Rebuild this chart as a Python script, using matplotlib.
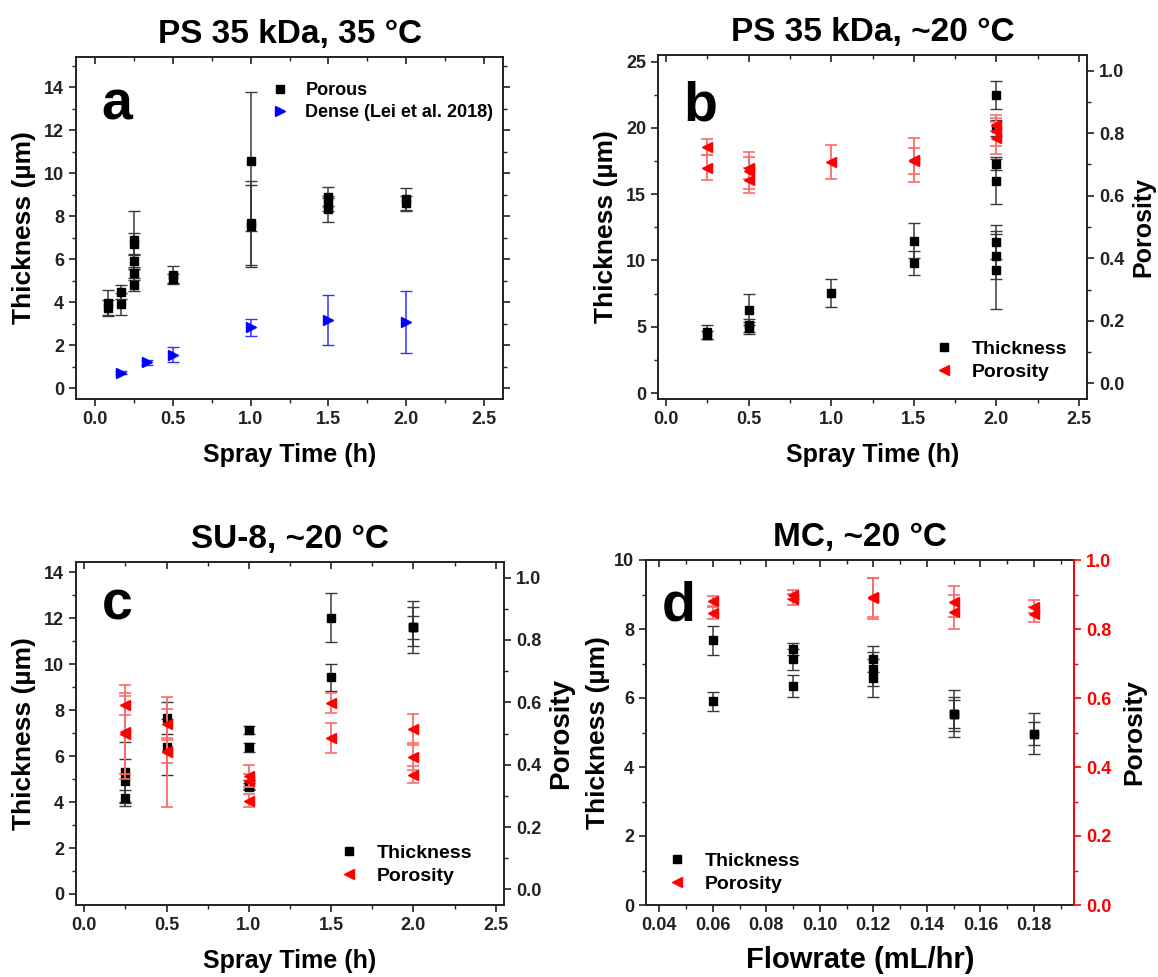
import matplotlib
matplotlib.use("Agg")
import matplotlib.pyplot as plt
from matplotlib.ticker import MultipleLocator
from matplotlib.lines import Line2D

plt.rcParams['font.family'] = ['Liberation Sans', 'DejaVu Sans']
plt.rcParams['font.weight'] = 'bold'

# ---------------- data ----------------
# Panel a: PS 35 kDa, 35 C
a_por_x = [0.083, 0.083, 0.167, 0.167, 0.25, 0.25, 0.25, 0.25, 0.25, 0.5, 0.5,
           1.0, 1.0, 1.0, 1.5, 1.5, 1.5, 2.0, 2.0]
a_por_y = [3.95, 3.75, 4.47, 3.91, 6.9, 6.7, 5.9, 5.35, 4.81, 5.25, 5.1,
           10.55, 7.7, 7.53, 8.9, 8.55, 8.35, 8.8, 8.6]
a_por_e = [0.6, 0.35, 0.34, 0.5, 1.35, 0.5, 0.35, 0.3, 0.3, 0.42, 0.2,
           3.23, 1.95, 1.9, 0.45, 0.3, 0.6, 0.5, 0.35]
a_den_x = [0.167, 0.333, 0.5, 1.0, 1.5, 2.0]
a_den_y = [0.73, 1.2, 1.55, 2.84, 3.18, 3.07]
a_den_e = [0.05, 0.1, 0.35, 0.4, 1.17, 1.45]

# Panel b: PS 35 kDa, ~20 C
b_thk_x = [0.25, 0.25, 0.5, 0.5, 0.5, 1.0, 1.5, 1.5,
           2.0, 2.0, 2.0, 2.0, 2.0, 2.0, 2.0]
b_thk_y = [4.6, 4.35, 6.3, 5.1, 4.9, 7.55, 11.5, 9.8,
           22.48, 19.97, 17.26, 16.02, 11.38, 10.3, 9.29]
b_thk_e = [0.55, 0.3, 1.2, 0.5, 0.45, 1.07, 1.3, 0.9,
           1.05, 0.6, 0.4, 1.78, 1.3, 1.71, 2.96]
b_por_x = [0.25, 0.25, 0.5, 0.5, 0.5, 1.0, 1.5, 1.5, 2.0, 2.0, 2.0]
b_por_y = [0.755, 0.69, 0.69, 0.68, 0.65, 0.707, 0.715, 0.712, 0.827, 0.808, 0.785]
b_por_e = [0.025, 0.04, 0.035, 0.06, 0.04, 0.055, 0.07, 0.042, 0.02, 0.05, 0.05]

# Panel c: SU-8, ~20 C
c_thk_x = [0.25, 0.25, 0.25, 0.5, 0.5, 1.0, 1.0, 1.0, 1.0, 1.5, 1.5, 2.0, 2.0, 2.0]
c_thk_y = [5.31, 4.92, 4.18, 7.67, 6.41, 7.14, 6.39, 4.75, 4.67, 12.02, 9.43, 11.64, 11.64, 11.6]
c_thk_e = [1.32, 0.95, 0.35, 0.7, 1.22, 0.19, 0.2, 0.2, 0.15, 1.07, 0.58, 1.13, 0.85, 0.5]
c_por_x = [0.25, 0.25, 0.25, 0.5, 0.5, 0.5, 1.0, 1.0, 1.0, 1.5, 1.5, 2.0, 2.0, 2.0]
c_por_y = [0.59, 0.505, 0.50, 0.53, 0.445, 0.441, 0.365, 0.349, 0.285, 0.599, 0.487, 0.514, 0.426, 0.368]
c_por_e = [0.031, 0.15, 0.13, 0.05, 0.04, 0.177, 0.035, 0.02, 0.02, 0.032, 0.048, 0.05, 0.042, 0.028]

# Panel d: MC, ~20 C
d_thk_x = [0.06, 0.06, 0.09, 0.09, 0.09, 0.12, 0.12, 0.12, 0.15, 0.15, 0.15, 0.18, 0.18]
d_thk_y = [7.67, 5.9, 7.42, 7.12, 6.35, 7.13, 6.84, 6.59, 5.54, 5.54, 5.54, 4.97, 4.97]
d_thk_e = [0.42, 0.27, 0.16, 0.3, 0.33, 0.37, 0.5, 0.55, 0.68, 0.5, 0.4, 0.6, 0.32]
d_por_x = [0.06, 0.06, 0.09, 0.09, 0.12, 0.12, 0.15, 0.15, 0.18, 0.18]
d_por_y = [0.881, 0.847, 0.90, 0.886, 0.892, 0.889, 0.879, 0.85, 0.865, 0.843]
d_por_e = [0.015, 0.017, 0.012, 0.015, 0.056, 0.06, 0.045, 0.05, 0.02, 0.022]

titles = ["PS 35 kDa, 35 °C", "PS 35 kDa, ~20 °C", "SU-8, ~20 °C", "MC, ~20 °C"]
letters = ["a", "b", "c", "d"]
time_ticks = [0.0, 0.5, 1.0, 1.5, 2.0, 2.5]
time_labels = ['0.0', '0.5', '1.0', '1.5', '2.0', '2.5']
flow_ticks = [0.04, 0.06, 0.08, 0.10, 0.12, 0.14, 0.16, 0.18]
flow_labels = ['0.04', '0.06', '0.08', '0.10', '0.12', '0.14', '0.16', '0.18']
por_ticks = [0.0, 0.2, 0.4, 0.6, 0.8, 1.0]
por_labels = ['0.0', '0.2', '0.4', '0.6', '0.8', '1.0']

# ---------------- figure ----------------
W, H = 1158, 977
fig = plt.figure(figsize=(W / 100, H / 100), dpi=100)


def box(l, t, r, b):
    return [l / W, 1 - b / H, (r - l) / W, (b - t) / H]


axa = fig.add_axes(box(76, 57, 503, 399))
axb = fig.add_axes(box(658, 55, 1087, 399))
axc = fig.add_axes(box(76, 562, 504, 905))
axd = fig.add_axes(box(646, 560, 1074, 905))

SP = '#222222'
TICKFS = 13
XLABFS = 18
YLABFS = 19


def style_main(ax, right_inner=True):
    for s in ax.spines.values():
        s.set_linewidth(1.4)
        s.set_color(SP)
    ax.tick_params(axis='both', which='major', direction='out', length=5, width=1.2,
                   labelsize=TICKFS, colors=SP)
    ax.tick_params(axis='both', which='minor', direction='out', length=3, width=1.0, colors=SP)
    ax.tick_params(axis='x', which='both', top=True, labeltop=False)
    for t in ax.xaxis.get_major_ticks() + ax.xaxis.get_minor_ticks():
        t.tick2line.set_marker(3)  # inward top tick
    if right_inner:
        ax.tick_params(axis='y', which='both', right=True, labelright=False)
        for t in ax.yaxis.get_major_ticks() + ax.yaxis.get_minor_ticks():
            t.tick2line.set_marker(1)
    for lab in ax.get_xticklabels() + ax.get_yticklabels():
        lab.set_fontweight('bold')


ERR_K = dict(ecolor='#3a3a3a', elinewidth=1.1, capsize=4, capthick=1.0)
ERR_R = dict(ecolor='#ff6a6a', elinewidth=1.3, capsize=4, capthick=1.2)


def fig_anchor(x, y):
    return (x / W, 1 - y / H)


# ---- panel a ----
axa.errorbar(a_por_x, a_por_y, yerr=a_por_e, fmt='s', ms=6, color='black', **ERR_K, zorder=3)
axa.errorbar(a_den_x, a_den_y, yerr=a_den_e, fmt='>', ms=6.5, color='#0000ff',
             ecolor='#3333ff', elinewidth=1.1, capsize=4, capthick=1.0, zorder=3)
axa.set_xlim(-0.12, 2.62)
axa.set_ylim(-0.5, 15.4)
axa.xaxis.set_minor_locator(MultipleLocator(0.25))
axa.yaxis.set_major_locator(MultipleLocator(2))
axa.yaxis.set_minor_locator(MultipleLocator(1))
axa.set_xticks(time_ticks)
axa.set_xticklabels(time_labels)
style_main(axa)
axa.set_xlabel("Spray Time (h)", fontsize=XLABFS, fontweight='bold', labelpad=11)
axa.set_ylabel("Thickness (µm)", fontsize=YLABFS, fontweight='bold', labelpad=6)
ha = [Line2D([], [], ls='none', marker='s', ms=6, color='black'),
      Line2D([], [], ls='none', marker='>', ms=6.5, color='#0000ff')]
axa.legend(ha, ["Porous", "Dense (Lei et al. 2018)"], loc='upper left',
           bbox_to_anchor=fig_anchor(271, 82), bbox_transform=fig.transFigure,
           borderaxespad=0, borderpad=0, frameon=False, handlelength=1.0,
           handletextpad=0.9, labelspacing=0.3, prop={'weight': 'bold', 'size': 13})


def twin_panel(ax, tx, ty, te, px, py, pe, xlim, ylim, ymaj, ymin, xmin, xticks, xlabels,
               red_axis=False, plab_size=19, plab_pad=8):
    ax.errorbar(tx, ty, yerr=te, fmt='s', ms=6, color='black', **ERR_K, zorder=3)
    ax.set_xlim(*xlim)
    ax.set_ylim(*ylim)
    ax.xaxis.set_minor_locator(MultipleLocator(xmin))
    ax.yaxis.set_major_locator(MultipleLocator(ymaj))
    ax.yaxis.set_minor_locator(MultipleLocator(ymin))
    ax.set_xticks(xticks)
    ax.set_xticklabels(xlabels)
    style_main(ax, right_inner=False)
    ax.spines['right'].set_visible(False)
    tw = ax.twinx()
    tw.errorbar(px, py, yerr=pe, fmt='<', ms=6.5, color='#ff0000', **ERR_R, zorder=4)
    if red_axis:
        tw.set_ylim(0, 1)
    else:
        tw.set_ylim(-0.05, 1.05)
    tw.yaxis.set_minor_locator(MultipleLocator(0.1))
    tw.set_yticks(por_ticks)
    tw.set_yticklabels(por_labels)
    col = '#ff0000' if red_axis else SP
    for s in tw.spines.values():
        s.set_linewidth(1.4)
    tw.spines['right'].set_color(col)
    for k in ['left', 'top', 'bottom']:
        tw.spines[k].set_visible(False)
    tw.tick_params(axis='y', which='major', direction='out', length=5, width=1.2,
                   labelsize=TICKFS, colors=col)
    tw.tick_params(axis='y', which='minor', direction='out', length=3, width=1.0, colors=col)
    for lab in tw.get_yticklabels():
        lab.set_fontweight('bold')
    tw.set_ylabel("Porosity", fontsize=plab_size, fontweight='bold', labelpad=plab_pad,
                  color='black')
    return tw


twb = twin_panel(axb, b_thk_x, b_thk_y, b_thk_e, b_por_x, b_por_y, b_por_e,
                 (-0.05, 2.55), (-0.45, 25.5), 5, 2.5, 0.25, time_ticks, time_labels,
                 plab_size=18, plab_pad=5)
axb.set_xlabel("Spray Time (h)", fontsize=XLABFS, fontweight='bold', labelpad=11)
axb.set_ylabel("Thickness (µm)", fontsize=YLABFS, fontweight='bold', labelpad=6)

twc = twin_panel(axc, c_thk_x, c_thk_y, c_thk_e, c_por_x, c_por_y, c_por_e,
                 (-0.05, 2.55), (-0.48, 14.45), 2, 1, 0.25, time_ticks, time_labels,
                 plab_size=20, plab_pad=5)
axc.set_xlabel("Spray Time (h)", fontsize=XLABFS, fontweight='bold', labelpad=11)
axc.set_ylabel("Thickness (µm)", fontsize=YLABFS, fontweight='bold', labelpad=6)

twd = twin_panel(axd, d_thk_x, d_thk_y, d_thk_e, d_por_x, d_por_y, d_por_e,
                 (0.035, 0.195), (0, 10), 2, 1, 0.01, flow_ticks, flow_labels,
                 red_axis=True, plab_size=19, plab_pad=8)
axd.set_xlabel("Flowrate (mL/hr)", fontsize=21, fontweight='bold', labelpad=9)
axd.set_ylabel("Thickness (µm)", fontsize=YLABFS, fontweight='bold', labelpad=3)

hl = [Line2D([], [], ls='none', marker='s', ms=6, color='black'),
      Line2D([], [], ls='none', marker='<', ms=6.5, color='#ff0000')]
labs = ["Thickness", "Porosity"]
for tw, (x0, y0) in [(twb, (934, 340)), (twc, (339, 844)), (twd, (667, 852))]:
    tw.legend(hl, labs, loc='upper left', bbox_to_anchor=fig_anchor(x0, y0),
              bbox_transform=fig.transFigure, borderaxespad=0, borderpad=0,
              frameon=False, handlelength=1.0, handletextpad=0.95, labelspacing=0.3,
              prop={'weight': 'bold', 'size': 14})

for ax, t, l, yb in zip([axa, axb, axc, axd], titles, letters, [0.816, 0.811, 0.833, 0.826]):
    ax.set_title(t, fontsize=24, fontweight='bold', pad=10)
    xf = 0.06 if l != 'd' else 0.037
    ax.text(xf, yb, l, transform=ax.transAxes, fontsize=40, fontweight='bold',
            va='baseline', ha='left', zorder=10)

fig.savefig("out.png", dpi=100)
